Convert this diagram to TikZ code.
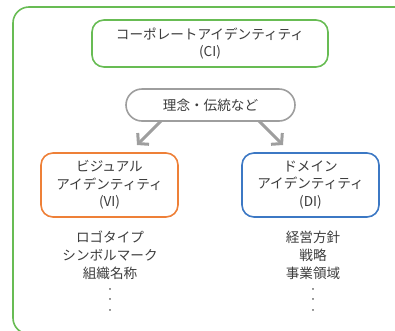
\documentclass[tikz,border=0pt]{standalone}
\usepackage{fontspec}
\setmainfont{Noto Sans CJK JP}
\usetikzlibrary{arrows.meta}
\definecolor{cigreen}{RGB}{104,188,84}
\definecolor{viorange}{RGB}{238,128,56}
\definecolor{diblue}{RGB}{60,120,196}
\definecolor{arrowgray}{RGB}{158,158,158}
\definecolor{txtgray}{RGB}{60,60,60}
\tikzset{
  box/.style={draw, line width=1.6pt, rounded corners=12pt, fill=white, text=txtgray,
    align=center, font=\fontsize{13.6}{17.5}\selectfont, inner sep=0pt},
  listtext/.style={text=txtgray, align=center, font=\fontsize{13.6}{18}\selectfont, inner sep=0pt},
  garrow/.style={draw=arrowgray, line width=3pt, -{Straight Barb[length=7pt,width=16pt]}}
}
\begin{document}
\begin{tikzpicture}[x=1pt,y=-1pt]
\useasboundingbox (0,0) rectangle (395,330);
\begin{scope}
\clip (0,0) rectangle (395,330);
\draw[cigreen, line width=1.6pt, rounded corners=16pt] (13,7) rectangle (420,334);
\end{scope}
\node[box, draw=cigreen, minimum width=236pt, minimum height=47pt] (ci) at (210,43.5) {コーポレートアイデンティティ\\(CI)};
\node[box, draw=arrowgray, minimum width=169pt, minimum height=32pt, rounded corners=16pt] (idea) at (210.5,105) {理念・伝統など};
\node[box, draw=viorange, minimum width=137pt, minimum height=64pt] (vi) at (109.5,185) {ビジュアル\\アイデンティティ\\(VI)};
\node[box, draw=diblue, minimum width=137pt, minimum height=64pt] (di) at (310.5,185) {ドメイン\\アイデンティティ\\(DI)};
\coordinate (la) at (161,121);
\coordinate (ra) at (259,121);
\coordinate (lt) at (137,145);
\coordinate (rt) at (283,145);
\draw[garrow] (la) -- (lt);
\draw[garrow] (ra) -- (rt);
\node[listtext, anchor=north] (vl) at (110,231) {ロゴタイプ\\シンボルマーク\\組織名称};
\node[listtext, anchor=north] (dl) at (313,231) {経営方針\\戦略\\事業領域};
\node[listtext, anchor=north, font=\fontsize{8}{10.8}\selectfont] (vd) at (110,288) {・\\・\\・};
\node[listtext, anchor=north, font=\fontsize{8}{10.8}\selectfont] (dd) at (313,288) {・\\・\\・};
\end{tikzpicture}
\end{document}
